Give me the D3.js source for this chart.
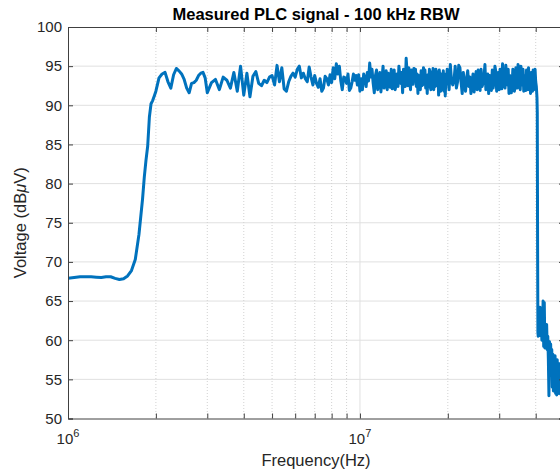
<!DOCTYPE html>
<meta charset="utf-8">
<style>
body {
  margin: 0;
  background: #fff;
}
svg {
  display: block;
  font-family: "Liberation Sans", Arial, Helvetica, sans-serif;
}
.axis path, .axis line {
  stroke: #404040;
}
.axis text {
  fill: #262626;
  font-size: 15px;
}
</style>
<body>
<svg id="chart" width="560" height="476"></svg>
<script src="https://cdn.jsdelivr.net/npm/d3@7/dist/d3.min.js"></script>
<script>

// spectrum: frequency in MHz, level in dBuV
var freqMHz = [
  1.0, 1.05, 1.1, 1.15, 1.2, 1.25, 1.3, 1.35, 1.4, 1.45, 1.5, 1.55, 1.6, 1.65, 1.7, 1.75, 1.8, 1.825, 1.85, 1.875, 1.9, 1.925, 1.95, 1.975, 2.0,
  2.05, 2.1, 2.15, 2.2, 2.25, 2.3, 2.35, 2.4, 2.45, 2.5, 2.55, 2.6, 2.65, 2.7, 2.75, 2.8, 2.85, 2.9, 2.95, 3.0,
  3.1, 3.2, 3.3, 3.4, 3.5, 3.6, 3.7, 3.8, 3.9, 4.0, 4.1, 4.2, 4.3, 4.4, 4.5, 4.6, 4.7, 4.8, 4.9, 5.0,
  5.1, 5.2, 5.3, 5.4, 5.5, 5.6, 5.7, 5.8, 5.9, 6.0, 6.1, 6.2, 6.3, 6.4, 6.5, 6.6, 6.7, 6.8, 6.9, 7.0,
  7.1, 7.2, 7.3, 7.4, 7.5, 7.6, 7.7, 7.8, 7.9, 8.0, 8.1, 8.2, 8.3, 8.4, 8.5, 8.6, 8.7, 8.8, 8.9, 9.0,
  9.1, 9.2, 9.3, 9.4, 9.5, 9.6, 9.7, 9.8, 9.9, 10.0,
  10.1, 10.2, 10.3, 10.4, 10.5, 10.6, 10.7, 10.8, 10.9, 11.0,
  11.1, 11.2, 11.3, 11.4, 11.5, 11.6, 11.7, 11.8, 11.9, 12.0,
  12.1, 12.2, 12.3, 12.4, 12.5, 12.6, 12.7, 12.8, 12.9, 13.0,
  13.1, 13.2, 13.3, 13.4, 13.5, 13.6, 13.7, 13.8, 13.9, 14.0,
  14.1, 14.2, 14.3, 14.4, 14.5, 14.6, 14.7, 14.8, 14.9, 15.0,
  15.1, 15.2, 15.3, 15.4, 15.5, 15.6, 15.7, 15.8, 15.9, 16.0,
  16.1, 16.2, 16.3, 16.4, 16.5, 16.6, 16.7, 16.8, 16.9, 17.0,
  17.1, 17.2, 17.3, 17.4, 17.5, 17.6, 17.7, 17.8, 17.9, 18.0,
  18.1, 18.2, 18.3, 18.4, 18.5, 18.6, 18.7, 18.8, 18.9, 19.0,
  19.1, 19.2, 19.3, 19.4, 19.5, 19.6, 19.7, 19.8, 19.9, 20.0,
  20.2, 20.4, 20.6, 20.8, 21.0, 21.2, 21.4, 21.6, 21.8, 22.0,
  22.2, 22.4, 22.6, 22.8, 23.0, 23.2, 23.4, 23.6, 23.8, 24.0,
  24.2, 24.4, 24.6, 24.8, 25.0, 25.2, 25.4, 25.6, 25.8, 26.0,
  26.2, 26.4, 26.6, 26.8, 27.0, 27.2, 27.4, 27.6, 27.8, 28.0,
  28.2, 28.4, 28.6, 28.8, 29.0, 29.2, 29.4, 29.6, 29.8, 30.0,
  30.2, 30.4, 30.6, 30.8, 31.0, 31.2, 31.4, 31.6, 31.8, 32.0,
  32.2, 32.4, 32.6, 32.8, 33.0, 33.2, 33.4, 33.6, 33.8, 34.0,
  34.2, 34.4, 34.6, 34.8, 35.0, 35.2, 35.4, 35.6, 35.8, 36.0,
  36.2, 36.4, 36.6, 36.8, 37.0, 37.2, 37.4, 37.6, 37.8, 38.0,
  38.2, 38.4, 38.6, 38.8, 39.0, 39.2, 39.4, 39.6, 39.8, 40.0,
  40.2, 40.4,
  40.5, 40.6, 40.7, 40.8, 41.0, 41.2, 41.4, 41.6, 41.8, 42.0, 42.2, 42.4, 42.6, 42.8, 43.0, 43.2, 43.4, 43.6, 43.8, 44.0,
  44.2, 44.4, 44.6, 44.8, 45.0, 45.2, 45.4, 45.6, 45.8, 46.0, 46.2, 46.4, 46.6, 46.8, 47.0, 47.2, 47.4, 47.6, 47.8, 48.0,
  48.2, 48.4, 48.6, 48.8, 49.0, 49.4, 49.8, 50.0
];

var levelDbuV = [
  67.9, 68.0, 68.1, 68.1, 68.1, 68.05, 68.0, 68.1, 68.1, 67.9, 67.75, 67.85, 68.2, 68.9, 70.3, 73.5, 78.0, 80.8, 83.0, 84.8, 88.5, 90.2, 90.6, 91.2, 91.8,
  93.5, 94.0, 94.2, 93.0, 92.2, 93.9, 94.7, 94.4, 94.0, 93.3, 92.2, 91.6, 92.8, 92.9, 93.2, 93.8, 94.1, 94.2, 93.5, 91.6,
  92.9, 93.3, 92.0, 93.6, 93.2, 92.2, 94.2, 91.8, 95.0, 91.3, 94.1, 91.1, 93.7, 94.3, 92.8, 92.5, 93.2, 92.9, 93.6, 93.8,
  92.6, 95.1, 93.0, 94.8, 92.1, 91.8, 93.0, 93.7, 94.1, 93.6, 94.6, 95.0, 93.5, 94.1, 93.4, 93.0, 94.9, 93.6, 92.6, 93.8,
  92.8, 92.3, 93.4, 91.8, 92.2, 93.7, 93.4, 92.6, 93.9, 92.9, 94.8, 93.4, 95.3, 94.0, 95.0, 93.1, 92.0, 93.6, 93.5, 92.8,
  94.0, 91.9, 92.2, 93.0, 94.0, 93.2, 93.8, 92.6, 93.9, 91.8,
  93.4, 92.0, 94.0, 93.5, 92.4, 94.2, 93.1, 95.4, 93.6, 94.6,
  92.8, 91.6, 93.8, 94.5, 92.0, 93.0, 94.2, 91.7, 93.4, 95.0,
  92.2, 93.2, 94.4, 92.0, 94.1, 93.5, 92.3, 94.6, 92.1, 93.3,
  94.5, 92.0, 92.6, 94.0, 92.4, 95.0, 93.7, 92.8, 94.2, 91.6,
  94.6, 93.8, 92.4, 96.0, 94.2, 92.5, 94.8, 93.2, 92.0, 94.5,
  93.2, 92.7, 94.7, 93.6, 94.6, 92.4, 94.0, 91.5, 93.8, 93.5,
  92.0, 94.4, 92.5, 92.6, 94.8, 93.9, 94.5, 92.2, 93.8, 91.5,
  93.9, 93.0, 94.6, 92.4, 92.0, 94.3, 92.6, 94.7, 92.0, 93.2,
  92.4, 94.6, 93.9, 92.5, 94.3, 91.3, 94.5, 93.0, 91.8, 94.0,
  92.0, 92.6, 94.4, 91.8, 93.5, 91.2, 94.0, 92.8, 94.6, 93.6,
  92.0, 95.2, 93.0, 92.6, 93.2, 95.0, 92.2, 93.0, 95.1, 94.8,
  93.0, 91.5, 94.2, 92.8, 91.8, 93.5, 94.4, 92.4, 93.6, 91.5,
  92.8, 94.0, 91.7, 93.0, 94.3, 92.0, 94.5, 93.2, 91.9, 94.6,
  92.4, 92.8, 93.6, 95.2, 92.0, 93.6, 94.0, 91.5, 93.8, 92.8,
  91.9, 94.5, 92.2, 93.1, 95.0, 94.3, 91.8, 92.5, 94.2, 92.0,
  94.6, 93.4, 92.1, 95.3, 92.4, 93.0, 92.2, 95.1, 93.8, 92.6,
  94.6, 91.5, 93.8, 93.0, 91.6, 92.5, 94.6, 94.0, 91.8, 92.3,
  94.8, 93.5, 92.2, 95.2, 92.4, 93.8, 92.0, 95.0, 92.6, 93.0,
  94.6, 91.8, 93.8, 93.0, 91.9, 94.5, 92.0, 93.3, 94.8, 92.0,
  94.0, 91.5, 94.2, 93.2, 91.8, 94.5, 92.0, 92.2, 94.6, 93.0,
  92.4, 91.0,
  89.0, 72.0, 61.0, 60.5, 63.8, 60.8, 64.2, 60.6, 62.0, 60.0, 61.5, 65.0, 59.2, 64.8, 59.0, 61.2, 59.6, 62.0, 58.8, 60.5,
  57.5, 52.9, 59.8, 57.8, 59.5, 56.5, 58.8, 54.0, 58.2, 53.5, 57.6, 55.0, 58.0, 53.2, 56.8, 53.0, 57.5, 54.5, 56.2, 53.2,
  57.0, 53.5, 55.8, 53.1, 56.0, 54.0, 55.5, 54.2
];

var yTicks = [50, 55, 60, 65, 70, 75, 80, 85, 90, 95, 100];
var xMajor = [1e6, 1e7];
var xMajorExp = ["6", "7"];
var xMinor = [2e6, 3e6, 4e6, 5e6, 6e6, 7e6, 8e6, 9e6, 2e7, 3e7, 4e7];

var svg = d3.select("#chart"),
    plotL = 68, plotR = 564, plotT = 27, plotB = 418.5;

var x = d3.scaleLog().domain([1e6, 5e7]).range([plotL, plotR]),
    y = d3.scaleLinear().domain([50, 100]).range([plotB, plotT]);

var data = freqMHz.map(function(f, i) { return {f: f * 1e6, v: levelDbuV[i]}; });

svg.append("clipPath")
    .attr("id", "clip")
  .append("rect")
    .attr("x", plotL)
    .attr("y", plotT)
    .attr("width", plotR - plotL)
    .attr("height", plotB - plotT);

// grid
var grid = svg.append("g");
grid.selectAll(".ygrid")
    .data(yTicks.slice(1, -1))
  .enter().append("line")
    .attr("x1", plotL).attr("x2", plotR)
    .attr("y1", function(d) { return y(d); })
    .attr("y2", function(d) { return y(d); })
    .style("stroke", "#e0e0e0");
grid.selectAll(".xminor")
    .data(xMinor)
  .enter().append("line")
    .attr("x1", function(d) { return x(d); })
    .attr("x2", function(d) { return x(d); })
    .attr("y1", plotT).attr("y2", plotB)
    .style("stroke", "#d2d2d2")
    .style("stroke-dasharray", "1,2");
grid.selectAll(".xmajor")
    .data(xMajor.slice(1))
  .enter().append("line")
    .attr("x1", function(d) { return x(d); })
    .attr("x2", function(d) { return x(d); })
    .attr("y1", plotT).attr("y2", plotB)
    .style("stroke", "#e0e0e0");

var line = d3.line()
    .x(function(d) { return x(d.f); })
    .y(function(d) { return y(d.v); });

svg.append("path")
    .datum(data)
    .attr("clip-path", "url(#clip)")
    .attr("d", line)
    .style("fill", "none")
    .style("stroke", "#0072BD")
    .style("stroke-width", 3)
    .style("stroke-linejoin", "round");

// axes, ticks pointing inward like matlab
svg.append("g")
    .attr("class", "axis")
    .attr("transform", "translate(" + plotL + ",0)")
    .call(d3.axisLeft(y).tickValues(yTicks).tickSize(-5).tickPadding(6));

svg.append("g")
    .attr("class", "axis")
    .attr("transform", "translate(" + plotR + ",0)")
    .call(d3.axisRight(y).tickValues(yTicks).tickSize(-5).tickFormat(""));

svg.append("g")
    .attr("class", "axis")
    .attr("transform", "translate(0," + plotB + ")")
    .call(d3.axisBottom(x).tickValues(xMajor.concat(xMinor)).tickSize(-5).tickFormat(""));

svg.append("g")
    .attr("class", "axis")
    .attr("transform", "translate(0," + plotT + ")")
    .call(d3.axisTop(x).tickValues(xMajor.concat(xMinor)).tickSize(-5).tickFormat(""));

// 10^n labels
var xl = svg.selectAll(".xlab")
    .data(xMajor)
  .enter().append("text")
    .attr("x", function(d) { return x(d); })
    .attr("y", 444)
    .style("text-anchor", "middle")
    .style("font-size", "15px")
    .style("fill", "#262626");
xl.append("tspan").text("10");
xl.append("tspan")
    .attr("dy", -7)
    .style("font-size", "11px")
    .text(function(d, i) { return xMajorExp[i]; });

svg.append("text")
    .attr("x", (plotL + plotR) / 2)
    .attr("y", 20)
    .style("text-anchor", "middle")
    .style("font-size", "16.5px")
    .style("font-weight", "bold")
    .text("Measured PLC signal - 100 kHz RBW");

svg.append("text")
    .attr("x", (plotL + plotR) / 2)
    .attr("y", 466)
    .style("text-anchor", "middle")
    .style("font-size", "16.5px")
    .style("fill", "#262626")
    .text("Frequency(Hz)");

var yl = svg.append("text")
    .attr("transform", "rotate(-90)")
    .attr("x", -(plotT + plotB) / 2)
    .attr("y", 26)
    .style("text-anchor", "middle")
    .style("font-size", "16.5px")
    .style("fill", "#262626");
yl.append("tspan").text("Voltage (dB");
yl.append("tspan").style("font-style", "italic").text("\u03bc");
yl.append("tspan").text("V)");

</script>
</body>
</html>
